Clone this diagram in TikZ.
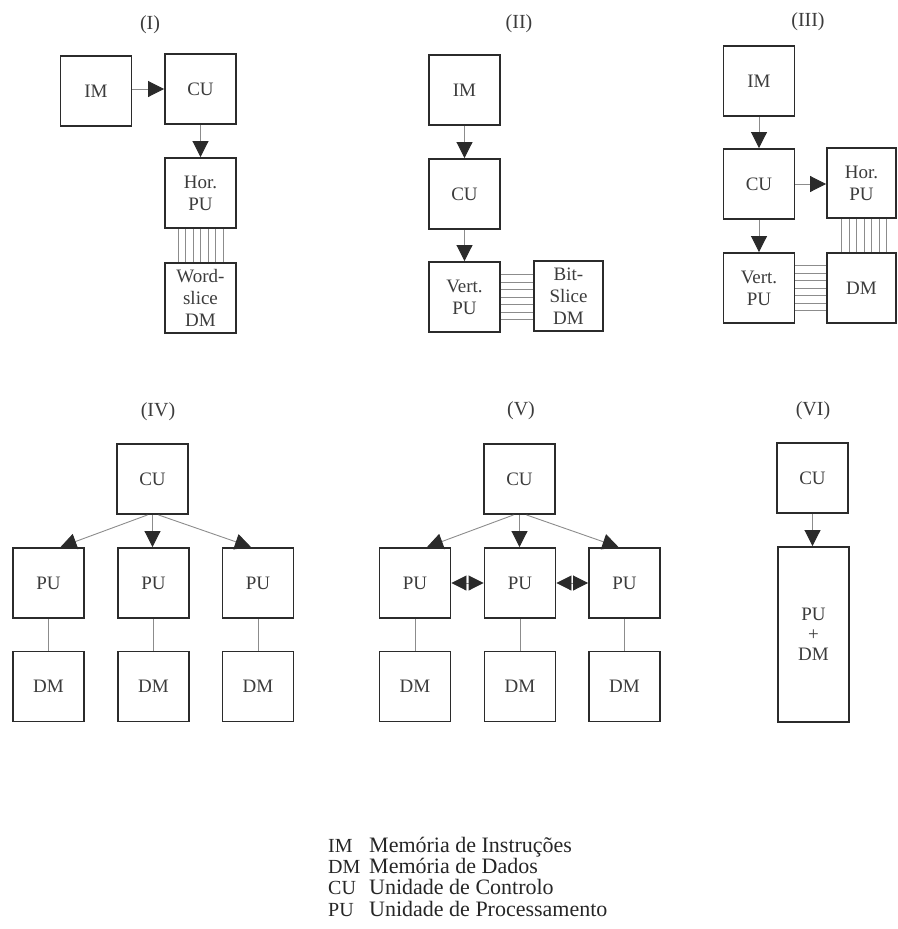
\documentclass[tikz,border=0pt]{standalone}
\usepackage{fontspec}
\setmainfont{Liberation Serif}
\usetikzlibrary{arrows.meta}

\definecolor{boxc}{HTML}{2B2B2B}
\definecolor{linec}{HTML}{8C8C8C}
\definecolor{txtc}{HTML}{3C3C3C}
\definecolor{tipc}{HTML}{2A2A2A}

\tikzset{
  unit/.style={draw=boxc, line width=1.9pt, fill=white, minimum width=71pt,
    minimum height=70pt, inner sep=0pt, text=txtc, align=center,
    font=\fontsize{19}{22}\selectfont},
  tall/.style={unit, minimum height=175pt},
  caption/.style={text=txtc, font=\fontsize{20}{24}\selectfont},
  link/.style={draw=linec, line width=0.9pt},
  bus/.style={draw=linec, line width=0.8pt},
  flow/.style={link, -{Triangle[width=16pt,length=16pt,color=tipc]}},
  both/.style={link, {Triangle[width=15pt,length=15pt,color=tipc]}-{Triangle[width=15pt,length=15pt,color=tipc]}},
  abbr/.style={anchor=base west, text=black!85, inner sep=0pt,
    font=\fontsize{20}{26}\selectfont},
  gloss/.style={abbr, font=\fontsize{22}{26}\selectfont},
}

\begin{document}
\begin{tikzpicture}[x=1pt, y=-1pt]
\useasboundingbox (0,0) rectangle (897,929);

% ---------- (I) ----------
\node[caption] (capI) at (150,25) {(I)};
\node[unit] (im1) at (96,91) {IM};
\node[unit] (cu1) at (200.5,89) {CU};
\node[unit] (hpu1) at (200.5,193) {Hor.\\PU};
\node[unit] (dm1) at (200.5,298) {Word-\\slice\\DM};
\draw[flow] (im1.east |- cu1.west) -- (cu1.west);
\draw[flow] (cu1.south) -- (hpu1.north);
\foreach \d in {-22.5,-15,-7.5,0,7.5,15,22.5}
  \draw[bus] ([xshift=\d pt]hpu1.south) -- ([xshift=\d pt]dm1.north);

% ---------- (II) ----------
\node[caption] (capII) at (519,24) {(II)};
\node[unit] (im2) at (464.5,90) {IM};
\node[unit] (cu2) at (464.5,194) {CU};
\node[unit] (vpu2) at (464.5,297) {Vert.\\PU};
\node[unit, minimum width=69pt] (dm2) at (568.5,296) {Bit-\\Slice\\DM};
\draw[flow] (im2.south) -- (cu2.north);
\draw[flow] (cu2.south) -- (vpu2.north);
\foreach \d in {-22.5,-15,-7.5,0,7.5,15,22.5}
  \draw[bus] ([yshift=\d pt]vpu2.east) -- ([yshift=\d pt]vpu2.east -| dm2.west);

% ---------- (III) ----------
\node[caption] (capIII) at (808,22) {(III)};
\node[unit] (im3) at (759,81) {IM};
\node[unit] (cu3) at (759,184) {CU};
\node[unit, minimum width=69pt] (hpu3) at (861.5,183) {Hor.\\PU};
\node[unit] (vpu3) at (759,288) {Vert.\\PU};
\node[unit, minimum width=69pt] (dm3) at (861.5,288) {DM};
\draw[flow] (im3.south) -- (cu3.north);
\draw[flow] (cu3.south) -- (vpu3.north);
\draw[flow] (cu3.east) -- (cu3.east -| hpu3.west);
\foreach \d in {-20,-12.5,-5,2.5,10,17.5,25}
  \draw[bus] ([xshift=\d pt]hpu3.south) -- ([xshift=\d pt]dm3.north);
\foreach \d in {-22.5,-15,-7.5,0,7.5,15,22.5}
  \draw[bus] ([yshift=\d pt]vpu3.east) -- ([yshift=\d pt]dm3.west);

% ---------- (IV) ----------
\node[caption] (capIV) at (158,412) {(IV)};
\node[unit] (cu4) at (152.5,479) {CU};
\node[unit] (pu4a) at (48.5,583) {PU};
\node[unit] (pu4b) at (153.5,583) {PU};
\node[unit] (pu4c) at (258,583) {PU};
\node[unit] (dm4a) at (48.5,686.5) {DM};
\node[unit] (dm4b) at (153.5,686.5) {DM};
\node[unit] (dm4c) at (258,686.5) {DM};
\draw[flow] ([xshift=-5pt]cu4.south) -- ([xshift=12pt]pu4a.north);
\draw[flow] (cu4.south) -- (cu4.south |- pu4b.north);
\draw[flow] ([xshift=6pt]cu4.south) -- ([xshift=-7pt]pu4c.north);
\foreach \n in {a,b,c}
  \draw[link] (pu4\n.south) -- (dm4\n.north);

% ---------- (V) ----------
\node[caption] (capV) at (521,411) {(V)};
\node[unit] (cu5) at (519.5,479) {CU};
\node[unit] (pu5a) at (415,583) {PU};
\node[unit] (pu5b) at (520,583) {PU};
\node[unit] (pu5c) at (624.5,583) {PU};
\node[unit] (dm5a) at (415,686.5) {DM};
\node[unit] (dm5b) at (520,686.5) {DM};
\node[unit] (dm5c) at (624.5,686.5) {DM};
\draw[flow] ([xshift=-6pt]cu5.south) -- ([xshift=12pt]pu5a.north);
\draw[flow] (cu5.south) -- (cu5.south |- pu5b.north);
\draw[flow] ([xshift=7pt]cu5.south) -- ([xshift=-6pt]pu5c.north);
\draw[both] (pu5a.east) -- (pu5b.west);
\draw[both] (pu5b.east) -- (pu5c.west);
\foreach \n in {a,b,c}
  \draw[link] (pu5\n.south) -- (dm5\n.north);

% ---------- (VI) ----------
\node[caption] (capVI) at (813,411) {(VI)};
\node[unit] (cu6) at (812.5,478) {CU};
\node[tall] (pd6) at (813.5,634.5) {PU\\[-2pt]+\\[-2pt]DM};
\draw[flow] (cu6.south) -- (cu6.south |- pd6.north);

% ---------- legend ----------
\node[abbr] (kIM) at (328,852) {IM};
\node[abbr] (kDM) at (328,873.3) {DM};
\node[abbr] (kCU) at (328,894.6) {CU};
\node[abbr] (kPU) at (328,916) {PU};
\node[gloss] (vIM) at (369,852) {Memória de Instruções};
\node[gloss] (vDM) at (369,873.3) {Memória de Dados};
\node[gloss] (vCU) at (369,894.6) {Unidade de Controlo};
\node[gloss] (vPU) at (369,916) {Unidade de Processamento};
\end{tikzpicture}
\end{document}
